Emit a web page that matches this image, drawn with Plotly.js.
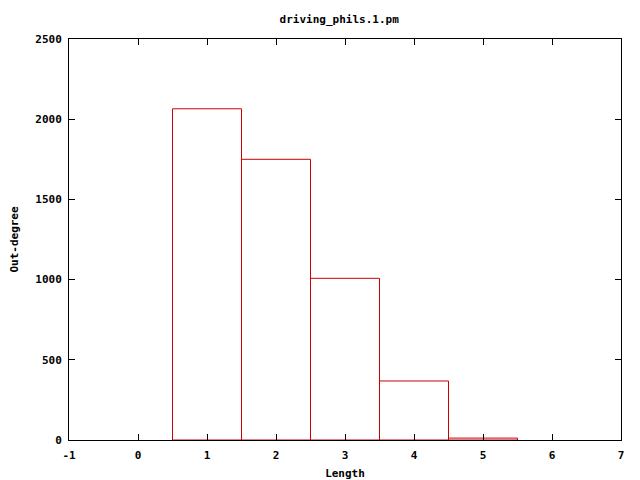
<!DOCTYPE html>
<html><head><meta charset="utf-8">
<script src="https://cdn.plot.ly/plotly-3.0.1.min.js"></script>
<style>body{margin:0;background:#fff}#c{width:640px;height:480px}</style>
</head><body><div id="c"></div>
<script>
const lengths = [1, 2, 3, 4, 5];
const outDegree = [2065, 1750, 1008, 368, 12];
const xTicks = [-1, 0, 1, 2, 3, 4, 5, 6, 7];
const yTicks = [0, 500, 1000, 1500, 2000, 2500];

const fnt = {family: 'DejaVu Sans Mono, monospace', size: 11, color: '#000', weight: 'bold'};
const axBase = {
  showline: true, linecolor: '#000', linewidth: 1, mirror: 'ticks',
  ticks: 'inside', ticklen: 6, tickcolor: '#000', tickwidth: 1,
  showgrid: false, zeroline: false, tickfont: fnt
};
Plotly.newPlot('c', [{
  type: 'bar', x: lengths, y: outDegree, width: 1,
  marker: {color: 'rgba(0,0,0,0)', line: {color: '#cc0000', width: 1}},
  hoverinfo: 'skip'
}], {
  width: 640, height: 480,
  margin: {l: 69, r: 19, t: 39, b: 40},
  paper_bgcolor: '#fff', plot_bgcolor: '#fff',
  showlegend: false,
  title: {text: 'driving_phils.1.pm', font: fnt, x: 0.53, xanchor: 'center', y: 0.96, yanchor: 'middle'},
  xaxis: Object.assign({}, axBase, {range: [-1, 7], tickvals: xTicks, ticktext: xTicks.map(String),
    ticklabelstandoff: 5, title: {text: 'Length', font: fnt, standoff: 8}}),
  yaxis: Object.assign({}, axBase, {range: [0, 2500], tickvals: yTicks, ticktext: yTicks.map(String),
    ticklabelstandoff: 4, title: {text: 'Out-degree', font: fnt, standoff: 14}})
}, {staticPlot: true});
</script></body></html>
